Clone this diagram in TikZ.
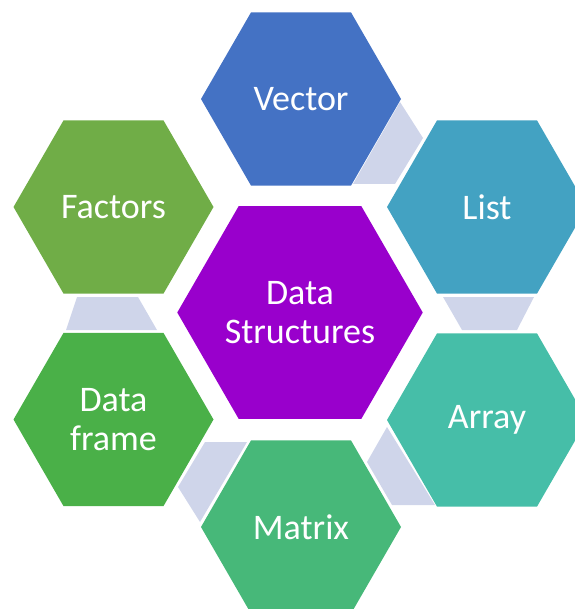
\documentclass[tikz,border=0pt]{standalone}
\usepackage{fontspec}
\setmainfont{Carlito}
\usetikzlibrary{shapes.geometric}

\definecolor{hubcol}{HTML}{9900CC}
\definecolor{vectorcol}{HTML}{4472C4}
\definecolor{listcol}{HTML}{43A2C2}
\definecolor{arraycol}{HTML}{46BEA8}
\definecolor{matrixcol}{HTML}{47B879}
\definecolor{framecol}{HTML}{4AB048}
\definecolor{factorcol}{HTML}{70AD47}
\definecolor{linkcol}{HTML}{CFD5EA}

\begin{document}
\begin{tikzpicture}[x=1pt,y=-1pt,
  hexcell/.style={regular polygon, regular polygon sides=6, draw=none,
    inner sep=0pt, outer sep=0pt, minimum size=200pt, text=white,
    font=\fontsize{36}{39}\selectfont, align=center},
  hubcell/.style={hexcell, minimum size=244pt},
  link/.style={fill=linkcol, draw=none}]
\useasboundingbox (0,0) rectangle (574,609);

% lavender links between neighbouring cells
\fill[link] (400,102) -- (423,138) -- (395,184) -- (353,184) -- cycle;
\fill[link] (443,297) -- (534,297) -- (517,330) -- (462,330) -- cycle;
\fill[link] (387,427) -- (367,462) -- (392,505) -- (435,505) -- cycle;
\fill[link] (205,442) -- (247,442) -- (200,522) -- (178,487) -- cycle;
\fill[link] (77,297) -- (138,297) -- (157,330) -- (66,330) -- cycle;

% central cell
\node[hubcell, fill=hubcol] (hub) at (300,312.5) {Data\\Structures};

% surrounding cells
\node[hexcell, fill=vectorcol] (vector) at (301,99) {Vector};
\node[hexcell, fill=listcol] (list) at (487,207) {List};
\node[hexcell, fill=arraycol] (array) at (487,420) {Array};
\node[hexcell, fill=matrixcol] (matrix) at (301,527) {Matrix};
\node[hexcell, fill=framecol] (frame) at (113.5,419.5) {Data\\frame};
\node[hexcell, fill=factorcol] (factors) at (113.5,207) {Factors};
\end{tikzpicture}
\end{document}
